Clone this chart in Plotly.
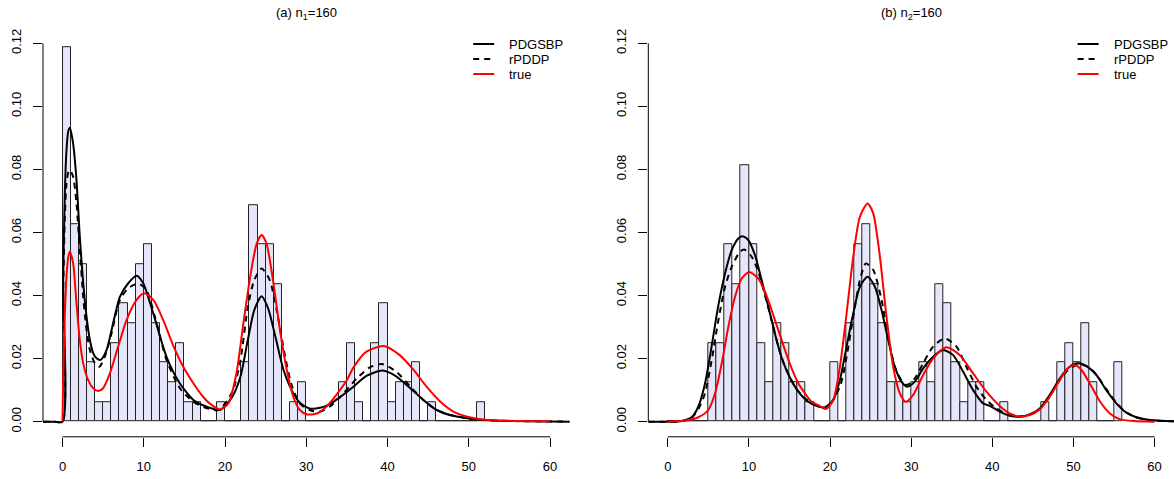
import plotly.graph_objects as go

# ---------------- data ----------------
n_obs = 160
bin_width = 1.0

# histogram counts per unit bin, bin k covers [k, k+1)
left_counts = [19, 10, 8, 3, 1, 1, 4, 6, 5, 8,
               9, 5, 3, 2, 4, 1, 1, 0, 0, 1,
               0, 0, 3, 11, 9, 9, 7, 0, 1, 2,
               0, 0, 0, 0, 2, 4, 1, 0, 4, 6,
               1, 2, 2, 3, 0, 1, 0, 0, 0, 0,
               0, 1]
right_counts = [0, 0, 0, 0, 0, 4, 4, 9, 7, 13,
                9, 4, 2, 5, 4, 2, 2, 1, 0, 0,
                3, 0, 5, 9, 10, 7, 5, 2, 2, 1,
                2, 3, 2, 7, 6, 3, 1, 2, 2, 0,
                0, 1, 0, 0, 0, 0, 1, 0, 3, 4,
                3, 5, 2, 0, 0, 3]

# panel (a) curves
a_pdg_x = [-2.4, -1.0, 0, 0.08, 0.29, 0.49, 0.7, 0.9, 1.31, 1.72, 2.13, 2.55, 2.96, 3.37, 3.78, 4.19, 4.68,
           5.42, 6.03, 7.06, 8.09, 9.11, 9.93, 11.17, 12.81, 14.45, 16.1, 17.3, 18.5, 19.4, 20.9, 21.9,
           22.8, 23.6, 24.5, 25.3, 26.2, 27.2, 28.2, 29.2, 30.4, 31.7, 32.9, 34.2, 35.8, 37.4, 39.4,
           41.1, 42.8, 44.4, 46.05, 47.7, 49.8, 51.8, 55.5, 62.4]
a_pdg_y = [0, 0, 0, 0.045, 0.073, 0.086, 0.092, 0.0932, 0.0881, 0.0766, 0.0586, 0.0439, 0.0333, 0.0259, 0.0217,
           0.0201, 0.0196, 0.0227, 0.0290, 0.0396, 0.0439, 0.0463, 0.0439, 0.0343, 0.0205, 0.0121, 0.0069,
           0.0052, 0.0041, 0.0037, 0.0079, 0.0143, 0.0259, 0.0354, 0.0398, 0.0359, 0.0269, 0.0164, 0.0100,
           0.0060, 0.0042, 0.0044, 0.0056, 0.0079, 0.0111, 0.0145, 0.0162, 0.0143, 0.0106, 0.0069, 0.0037,
           0.0021, 0.0011, 0.0005, 0.0002, 0.0]

a_rpd_x = [-2.4, -1.0, 0, 0.08, 0.29, 0.49, 0.7, 0.9, 1.31, 1.72, 2.13, 2.55, 2.96, 3.37, 3.99, 4.52, 5.21,
           6.03, 7.06, 8.09, 9.32, 10.34, 11.37, 12.81, 14.45, 16.1, 17.5, 19.2, 20.9, 21.9, 22.8, 23.6,
           24.5, 25.5, 26.35, 27.4, 28.2, 29.2, 30.4, 31.7, 32.9, 34.2, 36.2, 37.8, 39.3, 41.1, 42.8,
           44.4, 46.05, 47.7, 49.8, 51.8, 55.5, 62.4]
a_rpd_y = [0, 0, 0, 0.040, 0.065, 0.0755, 0.079, 0.0798, 0.0777, 0.0692, 0.0544, 0.0396, 0.0291, 0.0227,
           0.0185, 0.0174, 0.0206, 0.028, 0.0386, 0.0423, 0.0438, 0.0417, 0.0333, 0.0195, 0.0106, 0.0063,
           0.0045, 0.0037, 0.0095, 0.0195, 0.0364, 0.0449, 0.0486, 0.0449, 0.0354, 0.0206, 0.0116, 0.0058,
           0.0037, 0.0032, 0.0048, 0.0079, 0.0137, 0.0172, 0.0183, 0.0158, 0.0111, 0.0069, 0.0037, 0.0021,
           0.0011, 0.0005, 0.0002, 0.0]

a_true_x = [0, 0.08, 0.29, 0.49, 0.7, 0.9, 1.31, 1.72, 2.13, 2.55, 3.16, 3.78, 4.4, 5.0, 5.83, 6.85, 7.88,
            9.11, 10.06, 11.17, 12.4, 13.6, 14.86, 16.1, 17.3, 18.1, 19.4, 20.4, 21.4, 22.2, 23.1, 23.9,
            24.5, 25.1, 25.9, 26.7, 27.6, 28.4, 29.2, 30.1, 31.3, 32.5, 33.7, 35.0, 35.8, 37.4, 39.5, 41.5,
            43.2, 44.8, 46.5, 48.1, 49.8, 51.4, 53.4, 60]
a_true_y = [0, 0.0132, 0.034, 0.046, 0.052, 0.0539, 0.0502, 0.0375, 0.0259, 0.0185, 0.0132, 0.0106, 0.0097,
            0.0106, 0.0153, 0.0238, 0.0322, 0.0386, 0.0407, 0.0386, 0.0322, 0.0243, 0.0174, 0.0122, 0.0079,
            0.0058, 0.0039, 0.0058, 0.0153, 0.0301, 0.046, 0.0565, 0.0592, 0.0565, 0.0449, 0.0301, 0.0164,
            0.0079, 0.0037, 0.0023, 0.0026, 0.0048, 0.0085, 0.0132, 0.0172, 0.0222, 0.0240, 0.0211, 0.0164,
            0.0111, 0.0063, 0.0032, 0.0016, 0.0008, 0.0004, 0.0001]

# panel (b) curves
b_pdg_x = [-2.4, 1.0, 2.13, 2.95, 3.77, 4.6, 5.4, 6.2, 7.06, 7.88, 8.7, 9.23, 9.93, 10.75, 11.57, 12.4, 13.2,
           14.0, 14.9, 16.1, 17.3, 18.55, 19.4, 20.4, 21.22, 22.04, 22.86, 23.68, 24.63, 25.53, 26.35,
           27.17, 27.99, 28.8, 29.5, 30.45, 31.48, 32.71, 33.94, 35.18, 36.41, 37.64, 38.87, 39.69, 40.92,
           42.15, 43.39, 44.62, 45.85, 47.08, 48.31, 49.54, 50.57, 51.6, 52.83, 54.06, 55.3, 56.5, 57.75,
           59.4, 62.4]
b_pdg_y = [0, 0, 0.0005, 0.0014, 0.0048, 0.0122, 0.0238, 0.0364, 0.047, 0.0544, 0.0581, 0.0588, 0.0576,
           0.0528, 0.0449, 0.0364, 0.028, 0.0206, 0.0148, 0.0095, 0.0063, 0.0048, 0.0046, 0.0069, 0.0132,
           0.0238, 0.0343, 0.0428, 0.046, 0.0428, 0.0354, 0.0259, 0.0174, 0.0127, 0.0111, 0.0127, 0.0169,
           0.0206, 0.0227, 0.0211, 0.0158, 0.0100, 0.0058, 0.0050, 0.0032, 0.0019, 0.0016, 0.0023, 0.0042,
           0.0085, 0.0137, 0.0174, 0.0185, 0.0176, 0.0148, 0.0100, 0.0058, 0.0029, 0.0014, 0.0005, 0.0001]

b_rpd_x = [-2.4, 1.0, 2.13, 2.95, 3.77, 4.59, 5.41, 6.24, 7.06, 7.88, 8.9, 9.44, 10.34, 11.16, 11.98, 12.8,
           13.63, 14.45, 15.68, 16.9, 18.55, 19.58, 21.22, 22.04, 22.86, 23.68, 24.42, 25.33, 26.35, 27.17,
           27.99, 29.02, 29.5, 30.45, 31.48, 32.71, 34.15, 35.59, 36.81, 38.05, 39.28, 40.5, 42.15, 43.4,
           44.6, 45.85, 47.1, 48.3, 49.5, 50.8, 51.8, 52.8, 54.06, 55.3, 56.5, 57.75, 59.4, 62.4]
b_rpd_y = [0, 0, 0.0004, 0.0012, 0.004, 0.009, 0.0195, 0.0322, 0.0428, 0.0491, 0.0539, 0.0546, 0.0523,
           0.0475, 0.0401, 0.0322, 0.0238, 0.0174, 0.0111, 0.0074, 0.0050, 0.0042, 0.0111, 0.0206, 0.0333,
           0.0449, 0.0502, 0.0481, 0.0386, 0.0269, 0.0174, 0.0122, 0.0116, 0.0137, 0.0185, 0.0238, 0.0264,
           0.0238, 0.0174, 0.0111, 0.0069, 0.0042, 0.0020, 0.0016, 0.0022, 0.0040, 0.0080, 0.0132, 0.0168,
           0.0182, 0.0174, 0.0150, 0.0103, 0.0060, 0.0030, 0.0014, 0.0005, 0.0001]

b_true_x = [0, 1.0, 2.13, 3.77, 5.0, 5.83, 6.65, 7.47, 8.29, 9.11, 10.05, 11.16, 11.98, 12.8, 13.63, 14.45,
            15.27, 16.09, 16.91, 17.73, 18.55, 19.58, 20.4, 21.22, 22.04, 22.86, 23.68, 24.63, 25.33, 26.15,
            26.96, 27.78, 28.6, 29.35, 30.25, 31.48, 32.71, 34.35, 36.0, 37.64, 39.28, 40.92, 42.15, 43.39,
            44.62, 45.85, 47.08, 48.31, 49.3, 50.2, 51.0, 52.0, 53.3, 54.5, 55.7, 57.4, 60]
b_true_y = [0, 0.0001, 0.0003, 0.0014, 0.0037, 0.009, 0.0185, 0.0301, 0.0396, 0.0454, 0.0475, 0.0454, 0.0412,
            0.0354, 0.029, 0.0227, 0.0169, 0.0122, 0.009, 0.0063, 0.0052, 0.0042, 0.0069, 0.0174, 0.0343,
            0.0523, 0.065, 0.0692, 0.066, 0.0523, 0.0333, 0.0174, 0.009, 0.0063, 0.0085, 0.0148, 0.0201,
            0.0236, 0.0211, 0.0153, 0.0095, 0.0050, 0.0026, 0.0016, 0.0021, 0.0039, 0.0079, 0.0132, 0.0169,
            0.0180, 0.0164, 0.0122, 0.0063, 0.0026, 0.0008, 0.0002, 0.0]

x_ticks = [0, 10, 20, 30, 40, 50, 60]
y_ticks = [0.00, 0.02, 0.04, 0.06, 0.08, 0.10, 0.12]
y_tick_text = ["0.00", "0.02", "0.04", "0.06", "0.08", "0.10", "0.12"]
panel_titles = ["(a) n<sub>1</sub>=160", "(b) n<sub>2</sub>=160"]
legend_names = ["PDGSBP", "rPDDP", "true"]

# ---------------- styling ----------------
W, H = 1174, 479
FONT = "Liberation Sans, Arial, Helvetica, sans-serif"
FS = 13
BAR_FILL = "#E6E6FA"
XR = [-2.4, 62.4]
YR = [-0.0048, 0.1248]
xdom_a = [43.0 / W, 569.6 / W]
xdom_b = [648.3 / W, 1.0]
ydom = [1 - 436.8 / H, 1 - 28.2 / H]

line_styles = [dict(color="black", width=2),
               dict(color="black", width=2, dash="6px,5px"),
               dict(color="#FF0000", width=2)]

fig = go.Figure()

panels = [
    ("x", "y", left_counts, [(a_pdg_x, a_pdg_y), (a_rpd_x, a_rpd_y), (a_true_x, a_true_y)]),
    ("x2", "y2", right_counts, [(b_pdg_x, b_pdg_y), (b_rpd_x, b_rpd_y), (b_true_x, b_true_y)]),
]

for xa, ya, counts, curves in panels:
    centers = [k + bin_width / 2 for k in range(len(counts))]
    dens = [c / (n_obs * bin_width) for c in counts]
    fig.add_trace(go.Bar(x=centers, y=dens, width=bin_width, xaxis=xa, yaxis=ya,
                         marker=dict(color=BAR_FILL, line=dict(color="#222222", width=1)),
                         showlegend=False, name="histogram"))
    for (cx, cy), st, nm in zip(curves, line_styles, legend_names):
        fig.add_trace(go.Scatter(x=cx, y=cy, mode="lines", xaxis=xa, yaxis=ya,
                                 line=dict(shape="spline", smoothing=0.7, **st),
                                 name=nm, showlegend=False))

axis_common = dict(showgrid=False, zeroline=False, showline=False, ticks="outside", ticklen=9,
                   tickwidth=1, tickcolor="black", tickfont=dict(family=FONT, size=FS, color="black"))

fig.update_layout(
    width=W, height=H, margin=dict(l=0, r=0, t=0, b=0),
    paper_bgcolor="white", plot_bgcolor="white", bargap=0,
    font=dict(family=FONT, size=FS, color="black"),
    xaxis=dict(domain=xdom_a, range=XR, tickvals=x_ticks, anchor="y", ticklabelstandoff=9, **axis_common),
    xaxis2=dict(domain=xdom_b, range=XR, tickvals=x_ticks, anchor="y2", ticklabelstandoff=9, **axis_common),
    yaxis=dict(domain=ydom, range=YR, tickvals=y_ticks, ticktext=y_tick_text, tickangle=-90,
               anchor="x", ticklabelstandoff=7, **axis_common),
    yaxis2=dict(domain=ydom, range=YR, tickvals=y_ticks, ticktext=y_tick_text, tickangle=-90,
                anchor="x2", ticklabelstandoff=7, **axis_common),
)

shapes = []
annotations = []
for xa, ya, xdom, title in [("x", "y", xdom_a, panel_titles[0]), ("x2", "y2", xdom_b, panel_titles[1])]:
    # axis lines spanning tick range only (R style)
    shapes.append(dict(type="line", xref=xa, yref="paper", x0=x_ticks[0], x1=x_ticks[-1],
                       y0=ydom[0], y1=ydom[0], line=dict(color="black", width=1)))
    shapes.append(dict(type="line", xref="paper", yref=ya, x0=xdom[0], x1=xdom[0],
                       y0=y_ticks[0], y1=y_ticks[-1], line=dict(color="black", width=1)))
    # title
    annotations.append(dict(text=title, xref="paper", yref="paper", x=(xdom[0] + xdom[1]) / 2,
                            y=1 - 13 / H, xanchor="center", yanchor="middle", showarrow=False,
                            font=dict(family=FONT, size=FS, color="black")))
    # legend (top right, no box)
    right_px = xdom[1] * W
    for i, (st, nm) in enumerate(zip(line_styles, legend_names)):
        ypx = 44 + 15 * i
        shapes.append(dict(type="line", xref="paper", yref="paper",
                           x0=(right_px - 96.4) / W, x1=(right_px - 75.4) / W,
                           y0=1 - ypx / H, y1=1 - ypx / H, line=st))
        annotations.append(dict(text=nm, xref="paper", yref="paper", x=(right_px - 62.4) / W,
                                y=1 - ypx / H, xanchor="left", yanchor="middle", showarrow=False,
                                font=dict(family=FONT, size=FS, color="black")))

fig.update_layout(shapes=shapes, annotations=annotations)
fig.write_html("out.html")
